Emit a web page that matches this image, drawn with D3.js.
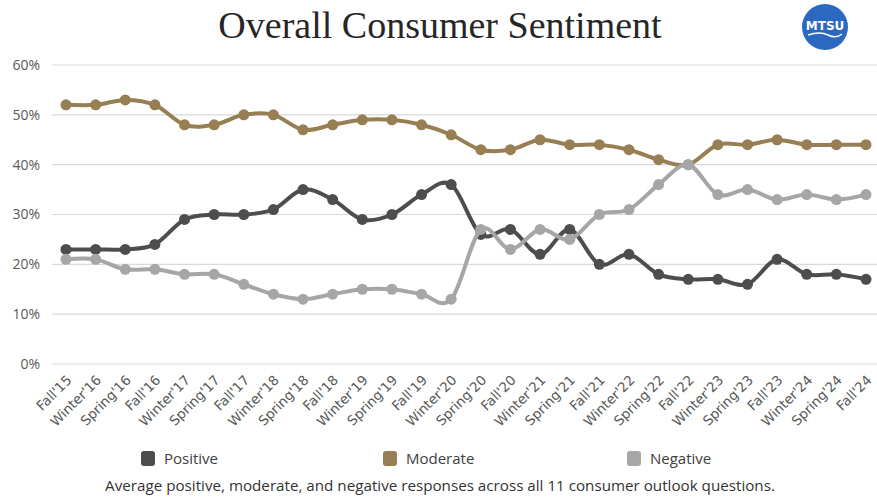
<!DOCTYPE html>
<html><head><meta charset="utf-8">
<script src="https://cdn.jsdelivr.net/npm/d3@7"></script>
<style>body{margin:0;background:#fff}svg{display:block}</style>
</head><body>
<svg id="c" width="877" height="498"></svg>
<script>
const categories = ["Fall'15","Winter'16","Spring'16","Fall'16","Winter'17","Spring'17","Fall'17","Winter'18","Spring'18","Fall'18","Winter'19","Spring'19","Fall'19","Winter'20","Spring'20","Fall'20","Winter'21","Spring'21","Fall'21","Winter'22","Spring'22","Fall'22","Winter'23","Spring'23","Fall'23","Winter'24","Spring'24","Fall'24"];
const positive = [23,23,23,24,29,30,30,31,35,33,29,30,34,36,26,27,22,27,20,22,18,17,17,16,21,18,18,17];
const moderate = [52,52,53,52,48,48,50,50,47,48,49,49,48,46,43,43,45,44,44,43,41,40,44,44,45,44,44,44];
const negative = [21,21,19,19,18,18,16,14,13,14,15,15,14,13,27,23,27,25,30,31,36,40,34,35,33,34,33,34];
const yTicks = [0,10,20,30,40,50,60];
const seriesNames = ["Positive","Moderate","Negative"];
const colors = ["#4d4d4d","#977e53","#a6a6a6"];
const title = "Overall Consumer Sentiment";
const caption = "Average positive, moderate, and negative responses across all 11 consumer outlook questions.";

const svg = d3.select("#c");
const x = d3.scalePoint().domain(categories).range([66, 866]);
const y = d3.scaleLinear().domain([0, 60]).range([364, 65]);

// title
svg.append("text").attr("x", 440).attr("y", 38).attr("text-anchor", "middle")
  .attr("font-family", "Liberation Serif, serif").attr("font-size", 38).attr("fill", "#262626")
  .text(title);

// logo
const logo = svg.append("g").attr("transform", "translate(825,27)");
logo.append("circle").attr("r", 23).attr("fill", "#2b68c1");
logo.append("text").attr("y", 3).attr("text-anchor", "middle").attr("font-family", "DejaVu Sans, sans-serif")
  .attr("font-weight", "bold").attr("font-size", 12).attr("fill", "#fff").text("MTSU");
logo.append("path").attr("d", "M-17,8 Q-5,4 3,8 T17,7").attr("fill", "none").attr("stroke", "#fff").attr("stroke-width", 1.5);

// grid
svg.append("g").selectAll("line").data(yTicks).join("line")
  .attr("x1", 52).attr("x2", 877).attr("y1", d => y(d)).attr("y2", d => y(d))
  .attr("stroke", "#d9d9d9").attr("stroke-width", 1.2);

// y axis
const yAxis = d3.axisLeft(y).tickValues(yTicks).tickFormat(d => d + "%").tickSize(0).tickPadding(0);
const ya = svg.append("g").attr("transform", "translate(40,0)").call(yAxis);
ya.select(".domain").remove();
ya.selectAll("text").attr("font-family", "Open Sans, sans-serif").attr("font-size", 14).attr("fill", "#595959");

// x axis
const xAxis = d3.axisBottom(x).tickSize(0).tickPadding(0);
const xa = svg.append("g").attr("transform", "translate(0,372)").call(xAxis);
xa.select(".domain").remove();
xa.selectAll("text").attr("font-family", "DejaVu Sans, sans-serif").attr("font-size", 13.5).attr("fill", "#595959")
  .attr("text-anchor", "end").attr("dy", 0).attr("transform", "translate(6,9) rotate(-45)");

// lines
const data = [positive, moderate, negative];
const line = d3.line().x((d, i) => x(categories[i])).y(d => y(d)).curve(d3.curveCardinal.tension(0));
const order = [1, 0, 2];
order.forEach(k => {
  const g = svg.append("g");
  g.append("path").attr("d", line(data[k])).attr("fill", "none").attr("stroke", colors[k]).attr("stroke-width", 4)
    .attr("stroke-linejoin", "round");
  g.selectAll("circle").data(data[k]).join("circle")
    .attr("cx", (d, i) => x(categories[i])).attr("cy", d => y(d)).attr("r", 5.5).attr("fill", colors[k]);
});

// legend
const legX = [141, 383, 627];
const leg = svg.append("g");
seriesNames.forEach((n, i) => {
  leg.append("rect").attr("x", legX[i]).attr("y", 451).attr("width", 14).attr("height", 15).attr("rx", 3)
    .attr("fill", colors[i]);
  leg.append("text").attr("x", legX[i] + 23).attr("y", 464).attr("font-family", "Open Sans, sans-serif")
    .attr("font-size", 15).attr("fill", "#404040").text(n);
});

// caption
svg.append("text").attr("x", 440).attr("y", 491).attr("text-anchor", "middle")
  .attr("font-family", "Open Sans, sans-serif").attr("font-size", 15.2).attr("fill", "#333").text(caption);
</script>
</body></html>
